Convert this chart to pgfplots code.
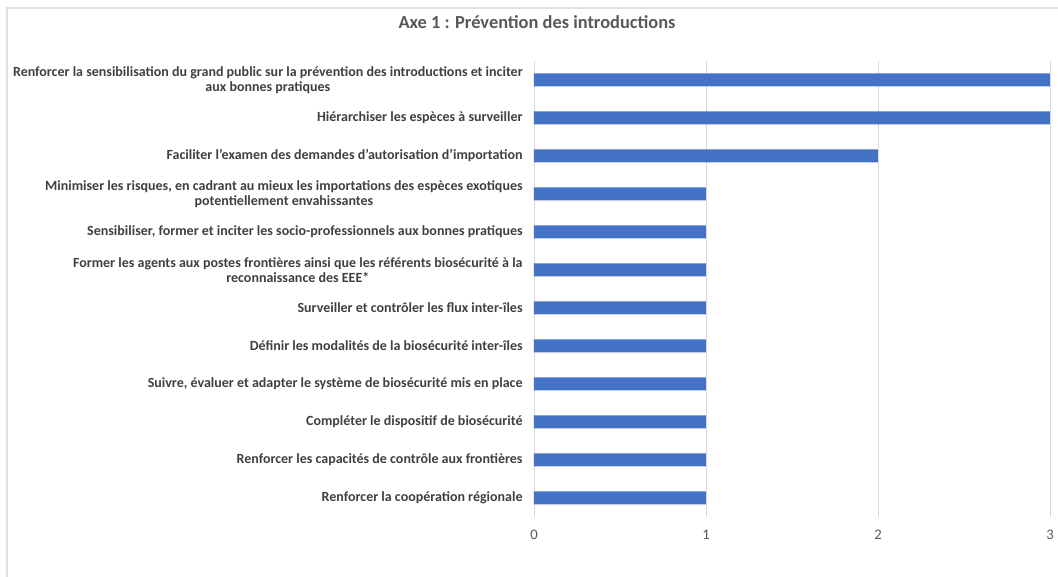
\documentclass[border=0pt]{standalone}
\usepackage{fontspec}
\setmainfont{Carlito}
\usepackage{pgfplots}
\pgfplotsset{compat=1.18}
\definecolor{barblue}{HTML}{4472C4}
\definecolor{labgray}{HTML}{404040}
\definecolor{titlegray}{HTML}{595959}
\begin{document}
\begin{tikzpicture}
% 1 px of the reference = 0.75pt
\path[use as bounding box] (0pt,0pt) rectangle (793.5pt,432.75pt);
\fill[white] (0pt,0pt) rectangle (793.5pt,432.75pt);
\draw[black!12, line width=1.2pt] (5.25pt,-4pt) -- (5.25pt,426.75pt) -- (800pt,426.75pt);
\node[font=\bfseries\fontsize{13.8}{16}\selectfont, text=titlegray] at (402.75pt,416.25pt) {Axe 1 : Prévention des introductions};
\begin{axis}[
    at={(400.5pt,45pt)}, anchor=south west,
    scale only axis,
    width=387pt, height=342pt,
    xbar, bar width=9.75pt, bar shift=0pt,
    xmin=0, xmax=3,
    ymin=-0.5, ymax=11.5,
    y dir=reverse,
    axis line style={draw=none},
    major tick length=0pt,
    xtick={0,1,2,3},
    xticklabels={0,1,2,3},
    xmajorgrids,
    grid style={color=black!15, line width=0.6pt},
    xticklabel style={font=\fontsize{11}{13}\selectfont, text=titlegray, yshift=-6pt},
    ytick={0,...,11},
    yticklabels={
      {Renforcer la sensibilisation du grand public sur la prévention des introductions et inciter\\aux bonnes pratiques},
      {Hiérarchiser les espèces à surveiller},
      {Faciliter l'examen des demandes d'autorisation d'importation},
      {Minimiser les risques, en cadrant au mieux les importations des espèces exotiques\\potentiellement envahissantes},
      {Sensibiliser, former et inciter les socio-professionnels aux bonnes pratiques},
      {Former les agents aux postes frontières ainsi que les référents biosécurité à la\\reconnaissance des EEE*},
      {Surveiller et contrôler les flux inter-îles},
      {Définir les modalités de la biosécurité inter-îles},
      {Suivre, évaluer et adapter le système de biosécurité mis en place},
      {Compléter le dispositif de biosécurité},
      {Renforcer les capacités de contrôle aux frontières},
      {Renforcer la coopération régionale}
    },
    yticklabel style={font=\bfseries\fontsize{10.5}{11.3}\selectfont, text=labgray, align=center, xshift=-5pt},
  ]
  \addplot[fill=barblue, draw=none] coordinates {
    (3,0) (3,1) (2,2) (1,3) (1,4) (1,5)
    (1,6) (1,7) (1,8) (1,9) (1,10) (1,11)
  };
\end{axis}
\end{tikzpicture}
\end{document}
